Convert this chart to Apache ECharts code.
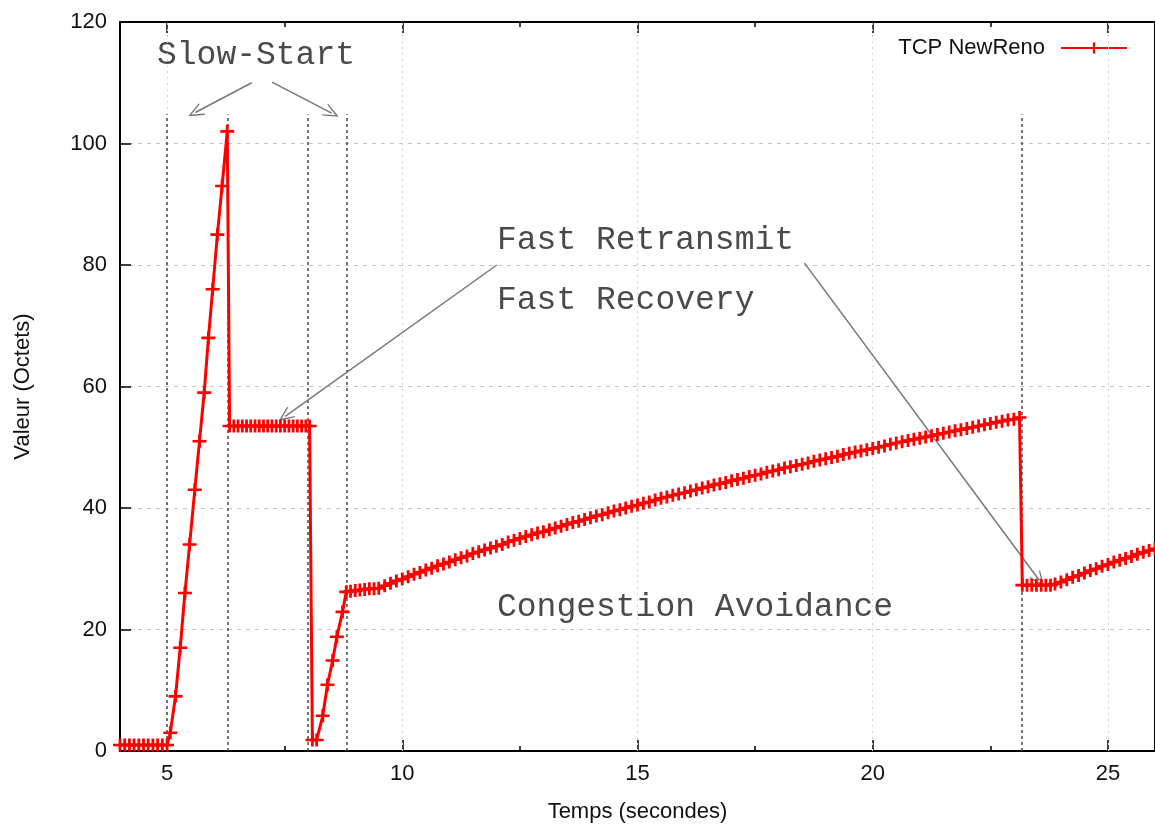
<!DOCTYPE html>
<html>
<head>
<meta charset="utf-8">
<script src="https://cdn.jsdelivr.net/npm/echarts@6/dist/echarts.min.js"></script>
<style>
  html, body { margin: 0; padding: 0; background: #fff; }
  #main { width: 1155px; height: 828px; }
</style>
</head>
<body>
<div id="main"></div>
<script>
// fenêtre de congestion TCP NewReno
const tAttente = [4.0, 4.1, 4.2, 4.3, 4.4, 4.5, 4.6, 4.7, 4.8, 4.9, 5.0];
const vAttente = [1, 1, 1, 1, 1, 1, 1, 1, 1, 1, 1];

const tSlowStart1 = [5.07, 5.18, 5.28, 5.38, 5.48, 5.59, 5.69, 5.79, 5.88, 5.97, 6.07, 6.17, 6.28];
const vSlowStart1 = [3, 9, 17, 26, 34, 43, 51, 59, 68, 76, 85, 93, 102];

const tRecovery = [6.33, 6.42, 6.51, 6.60, 6.69, 6.78, 6.87, 6.96, 7.05, 7.14,
  7.23, 7.32, 7.41, 7.50, 7.59, 7.68, 7.77, 7.86, 7.95, 8.03];
const vRecovery = [53.5, 53.5, 53.5, 53.5, 53.5, 53.5, 53.5, 53.5, 53.5, 53.5,
  53.5, 53.5, 53.5, 53.5, 53.5, 53.5, 53.5, 53.5, 53.5, 53.5];

const tSlowStart2 = [8.09, 8.18, 8.31, 8.41, 8.52, 8.61, 8.73, 8.81];
const vSlowStart2 = [1.8, 1.8, 5.8, 10.9, 14.9, 18.8, 22.9, 26.2];

const tAvoid1 = [8.9, 9.0, 9.1, 9.2, 9.3, 9.4,
  9.5, 9.625, 9.75, 9.875, 10, 10.125, 10.25, 10.375,
  10.5, 10.625, 10.75, 10.875, 11, 11.125, 11.25, 11.375,
  11.5, 11.625, 11.75, 11.875, 12, 12.125, 12.25, 12.375,
  12.5, 12.625, 12.75, 12.875, 13, 13.125, 13.25, 13.375,
  13.5, 13.625, 13.75, 13.875, 14, 14.125, 14.25, 14.375,
  14.5, 14.625, 14.75, 14.875, 15, 15.125, 15.25, 15.375,
  15.5, 15.625, 15.75, 15.875, 16, 16.125, 16.25, 16.375,
  16.5, 16.625, 16.75, 16.875, 17, 17.125, 17.25, 17.375,
  17.5, 17.625, 17.75, 17.875, 18, 18.125, 18.25, 18.375,
  18.5, 18.625, 18.75, 18.875, 19, 19.125, 19.25, 19.375,
  19.5, 19.625, 19.75, 19.875, 20, 20.125, 20.25, 20.375,
  20.5, 20.625, 20.75, 20.875, 21, 21.125, 21.25, 21.375,
  21.5, 21.625, 21.75, 21.875, 22, 22.125, 22.25, 22.375,
  22.5, 22.625, 22.75, 22.875, 23, 23.12];
const vAvoid1 = [26.3, 26.4, 26.5, 26.6, 26.7, 26.7,
  26.8, 27.2, 27.6, 28.0, 28.3, 28.7, 29.1, 29.4,
  29.8, 30.1, 30.5, 30.8, 31.1, 31.5, 31.8, 32.1,
  32.5, 32.8, 33.1, 33.4, 33.7, 34.0, 34.4, 34.7,
  35.0, 35.3, 35.6, 35.9, 36.1, 36.4, 36.7, 37.0,
  37.3, 37.6, 37.8, 38.1, 38.4, 38.7, 38.9, 39.2,
  39.5, 39.7, 40.0, 40.3, 40.5, 40.8, 41.0, 41.3,
  41.6, 41.8, 42.1, 42.3, 42.5, 42.8, 43.0, 43.3,
  43.5, 43.8, 44.0, 44.2, 44.5, 44.7, 44.9, 45.2,
  45.4, 45.6, 45.9, 46.1, 46.3, 46.6, 46.8, 47.0,
  47.2, 47.4, 47.7, 47.9, 48.1, 48.3, 48.5, 48.8,
  49.0, 49.2, 49.4, 49.6, 49.8, 50.0, 50.2, 50.5,
  50.7, 50.9, 51.1, 51.3, 51.5, 51.7, 51.9, 52.1,
  52.3, 52.5, 52.7, 52.9, 53.1, 53.3, 53.5, 53.7,
  53.9, 54.1, 54.3, 54.5, 54.6, 54.9];

const tAvoid2 = [23.18, 23.28, 23.38, 23.48, 23.58, 23.68, 23.78,
  23.875, 24.0, 24.125, 24.25, 24.375, 24.5, 24.625, 24.75, 24.875,
  25.0, 25.125, 25.25, 25.375, 25.5, 25.625, 25.75, 25.875, 26.0, 26.125];
const vAvoid2 = [27.3, 27.3, 27.3, 27.3, 27.3, 27.3, 27.3,
  27.5, 27.8, 28.2, 28.6, 28.9, 29.3, 29.7, 30.0, 30.4,
  30.7, 31.1, 31.4, 31.7, 32.0, 32.4, 32.7, 33.0, 33.3, 33.6];

// axes
const xMajorTicks = [5, 10, 15, 20, 25];
const xMinorTicks = [7.5, 12.5, 17.5, 22.5];

// annotations (coordonnées dans le repère des données)
const phaseLines = [5.0, 6.28, 7.99, 8.81, 23.17];
const phaseTop = 104.8;
const arrows = [
  [[6.80, 110.0], [5.60, 105.1]],
  [[7.23, 110.1], [8.50, 105.0]],
  [[12.01, 80.0], [7.51, 55.1]],
  [[18.55, 80.3], [23.54, 28.1]]
];

function zip(t, v) {
  return t.map((x, i) => [x, v[i]]);
}
const donnees = [].concat(
  zip(tAttente, vAttente),
  zip(tSlowStart1, vSlowStart1),
  zip(tRecovery, vRecovery),
  zip(tSlowStart2, vSlowStart2),
  zip(tAvoid1, vAvoid1),
  zip(tAvoid2, vAvoid2)
);

const sans = 'Liberation Sans';
const mono = '33px "Liberation Mono", "DejaVu Sans Mono", monospace';
const plus = 'path://M5.6,0H8.4V5.6H14V8.4H8.4V14H5.6V8.4H0V5.6H5.6Z';
const chevron = 'path://M10,0L20,19L18.4,20L10,4.5L1.6,20L0,19Z';

function xAxisDef(pos, ticks, len, withLine, withLabel) {
  return {
    type: 'value', position: pos, min: 4, max: 26,
    axisLine: { show: withLine, onZero: false, lineStyle: { color: '#000', width: 2 } },
    axisTick: { show: true, inside: true, length: len, customValues: ticks,
      lineStyle: { color: '#000', width: 1.5 } },
    axisLabel: withLabel ? { show: true, customValues: xMajorTicks, margin: 12,
      fontSize: 22, fontFamily: sans, color: '#111' } : { show: false },
    splitLine: { show: false }
  };
}

const myChart = echarts.init(document.getElementById('main'));
myChart.setOption({
  backgroundColor: '#fff',
  animation: false,
  grid: { left: 120, top: 22, width: 1036, height: 735, show: true,
    borderColor: '#000', borderWidth: 2, backgroundColor: 'transparent' },
  legend: {
    data: ['TCP NewReno'], right: 22, top: 32, align: 'right',
    itemWidth: 66, itemHeight: 14,
    textStyle: { fontSize: 22, fontFamily: sans, color: '#111', padding: [0, 11, 0, 0] }
  },
  xAxis: [
    Object.assign(xAxisDef('bottom', xMajorTicks, 11, true, true), {
      name: 'Temps (secondes)', nameLocation: 'middle', nameGap: 50,
      nameTextStyle: { fontSize: 22, fontFamily: sans, color: '#111' }
    }),
    xAxisDef('bottom', xMinorTicks, 5, false, false),
    xAxisDef('top', xMajorTicks, 11, true, false),
    xAxisDef('top', xMinorTicks, 5, false, false)
  ],
  yAxis: {
    type: 'value', min: 0, max: 120, interval: 20,
    name: 'Valeur (Octets)', nameLocation: 'middle', nameGap: 86,
    nameTextStyle: { fontSize: 22, fontFamily: sans, color: '#111' },
    axisLine: { show: true, lineStyle: { color: '#000', width: 2 } },
    axisTick: { inside: true, length: 11, lineStyle: { color: '#000', width: 1.5 } },
    axisLabel: { margin: 13, fontSize: 22, fontFamily: sans, color: '#111' },
    splitLine: { show: true, lineStyle: { color: '#c4c4c4', width: 1, type: [4, 5] } }
  },
  series: [
    {
      name: 'grille', type: 'line', data: [], z: 1, silent: true,
      markLine: {
        silent: true, symbol: ['none', 'none'], label: { show: false },
        lineStyle: { color: '#d2d2d2', width: 1, type: [2, 4] },
        data: xMajorTicks.map(x => ({ xAxis: x }))
      }
    },
    {
      name: 'phases', type: 'line', data: [], z: 2, silent: true,
      markLine: {
        silent: true, symbol: ['none', 'none'], label: { show: false },
        lineStyle: { color: '#4a4a4a', width: 1.5, type: [3, 3] },
        data: phaseLines.map(x => [{ coord: [x, 0] }, { coord: [x, phaseTop] }])
      }
    },
    {
      name: 'fleches', type: 'line', data: [], z: 3, silent: true,
      markLine: {
        silent: true, symbol: ['none', chevron], symbolSize: [13, 16],
        label: { show: false },
        lineStyle: { color: '#777', width: 1.5, type: 'solid' },
        data: arrows.map(a => [{ coord: a[0] }, { coord: a[1] }])
      }
    },
    {
      name: 'TCP NewReno', type: 'line', data: donnees, z: 5,
      symbol: plus, symbolSize: [14, 13], showSymbol: true,
      color: '#ff0000',
      itemStyle: { color: '#ff0000' },
      lineStyle: { color: '#ff0000', width: 3 }
    }
  ],
  graphic: [
    { type: 'text', x: 157, y: 55, silent: true,
      style: { text: 'Slow-Start', font: mono, fill: '#4a4a4a', verticalAlign: 'middle' } },
    { type: 'text', x: 497, y: 240, silent: true,
      style: { text: 'Fast Retransmit', font: mono, fill: '#4a4a4a', verticalAlign: 'middle' } },
    { type: 'text', x: 497, y: 300, silent: true,
      style: { text: 'Fast Recovery', font: mono, fill: '#4a4a4a', verticalAlign: 'middle' } },
    { type: 'text', x: 497, y: 607, silent: true,
      style: { text: 'Congestion Avoidance', font: mono, fill: '#4a4a4a', verticalAlign: 'middle' } }
  ]
});
</script>
</body>
</html>
